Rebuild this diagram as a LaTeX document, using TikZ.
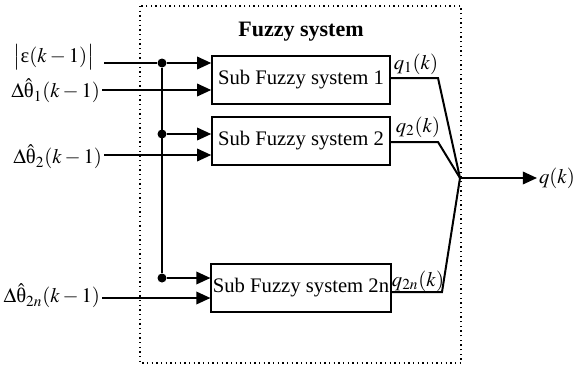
\documentclass[tikz,border=0pt]{standalone}
\usepackage{mathptmx}
\usepackage{fontspec}
\setmainfont{Liberation Serif}
\usetikzlibrary{positioning, arrows.meta}

\begin{document}
\begin{tikzpicture}[x=0.6pt, y=-0.6pt,
    font=\fontsize{12.4}{14}\selectfont,
    subsys/.style={draw, line width=0.9pt, minimum width=106.8pt,
                   minimum height=28.8pt, inner sep=1pt},
    wire/.style={line width=1.2pt},
    feed/.style={wire, -{Triangle[length=8.5pt, width=7.5pt]}},
    joint/.style={circle, fill, inner sep=0pt, minimum size=5.4pt}]
  \useasboundingbox (0,0) rectangle (581,367);

  % dotted frame round the sub systems
  \draw[dotted, line width=0.8pt] (140,6) rectangle (461,363);
  \node[font=\fontsize{13.2}{15}\selectfont\bfseries] (title) at (301,32) {Fuzzy system};

  \node[subsys] (sub1) at (301,80)  {Sub Fuzzy system 1};
  \node[subsys] (sub2) at (301,141) {Sub Fuzzy system 2};
  \node[subsys] (sub3) at (301,288) {Sub Fuzzy system 2n};

  % inputs
  \node[anchor=east, inner sep=1pt] (err) at (96,57) {$\bigl|\hbox{ε}(k-1)\bigr|$};
  \node[anchor=east, inner sep=1pt] (th1) at (102,91) {$\Delta\hat{\hbox{θ}}_1(k-1)$};
  \node[anchor=east, inner sep=1pt] (th2) at (104,157) {$\Delta\hat{\hbox{θ}}_2(k-1)$};
  \node[anchor=east, inner sep=1pt] (th3) at (102,296) {$\Delta\hat{\hbox{θ}}_{2n}(k-1)$};

  \coordinate (in1) at (104,63);
  \node[joint] (j1) at (162,63) {};
  \node[joint] (j2) at (162,134) {};
  \node[joint] (j3) at (162,278) {};

  \draw[wire] (in1) -- (j1) -- (j3);
  \draw[feed] (j1) -- (j1 -| sub1.west);
  \draw[feed] (j2) -- (j2 -| sub2.west);
  \draw[feed] (j3) -- (j3 -| sub3.west);
  \draw[feed] (th1.east |- 0,90) -- (sub1.west |- 0,90);
  \draw[feed] (th2.east |- 0,155) -- (sub2.west |- 0,155);
  \draw[feed] (th3.east |- 0,298) -- (sub3.west |- 0,298);

  % outputs merged into q(k)
  \coordinate (sum) at (460,178);
  \coordinate (k1) at (438,78);
  \coordinate (k2) at (438,142);
  \coordinate (k3) at (442,292);
  \draw[wire] (sub1.east |- k1) -- (k1) -- (sum);
  \draw[wire] (sub2.east |- k2) -- (k2) -- (sum);
  \draw[wire] (sub3.east |- k3) -- (k3) -- (sum);
  \node[anchor=west, inner sep=1pt] (q) at (537,178) {$q(k)$};
  \draw[feed] (sum) -- (q.west);

  \node (q1) at (416,64)  {$q_1(k)$};
  \node (q2) at (418,127) {$q_2(k)$};
  \node (q3) at (418,281) {$q_{2n}(k)$};
\end{tikzpicture}
\end{document}
